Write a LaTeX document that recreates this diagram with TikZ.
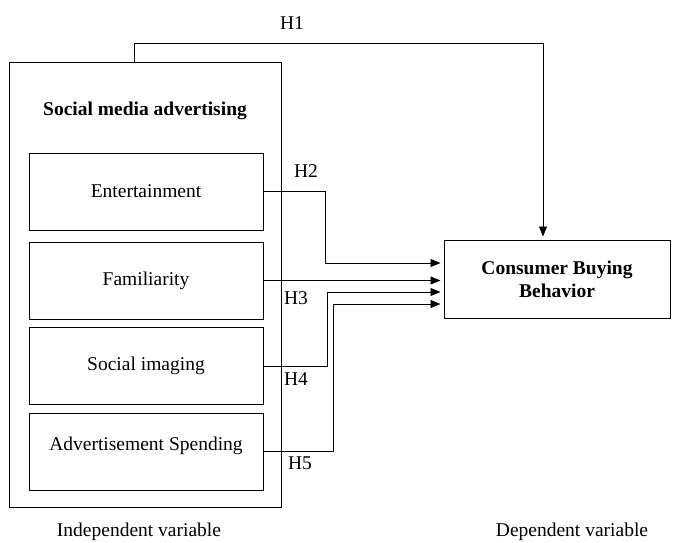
\documentclass[tikz,border=0pt]{standalone}
\usepackage{fontspec}
\setmainfont{Liberation Serif}
\usepackage{tikz}
\usetikzlibrary{arrows.meta,positioning,calc}

\begin{document}
\begin{tikzpicture}[x=1pt,y=-1pt,
  every node/.style={font=\fontsize{19.5}{23}\selectfont},
  varbox/.style={draw,line width=1pt,minimum width=234pt,minimum height=77pt,inner sep=0pt,align=center},
  link/.style={line width=0.9pt,-{Triangle[length=10pt,width=8pt]},shorten >=3pt}]
\useasboundingbox (0,0) rectangle (675,542);
% independent side
\node[draw,line width=1pt,minimum width=272pt,minimum height=445pt,inner sep=0pt] (sma) at (145,284.5) {};
\node[font=\fontsize{19.5}{23}\selectfont\bfseries] (smatitle) at (145,111) {Social media advertising};
\node[varbox] (ent) at (146,191.5) {Entertainment};
\node[varbox] (fam) at (146,280.5) {Familiarity};
\node[varbox] (soc) at (146,366) {Social imaging};
\node[varbox,text depth=16pt] (adv) at (146,451.5) {Advertisement Spending};
% dependent side
\node[draw,line width=1pt,minimum width=226pt,minimum height=78pt,inner sep=0pt,align=center,
  font=\fontsize{19.5}{23}\selectfont\bfseries] (cbb) at (557,279) {Consumer Buying\\Behavior};
% hypotheses
\coordinate (h1a) at (134,43);
\coordinate (h1b) at (543,43);
\draw[link] (h1a |- sma.north) -- (h1a) -- (h1b) -- (h1b |- cbb.north);
\draw[link] (ent.east) -| (325,263) -- (cbb.west |- 0,263);
\draw[link] (fam.east) -- (cbb.west |- fam.east);
\draw[link] (soc.east) -| (327,292) -- (cbb.west |- 0,292);
\draw[link] (adv.east) -| (333,304) -- (cbb.west |- 0,304);
\node (h1) at (292,23) {H1};
\node (h2) at (306,171) {H2};
\node (h3) at (296,298) {H3};
\node (h4) at (296,379) {H4};
\node (h5) at (300,463) {H5};
\node (indep) at (139,532) {Independent variable};
\node (dep) at (572,532) {Dependent variable};
\end{tikzpicture}
\end{document}
